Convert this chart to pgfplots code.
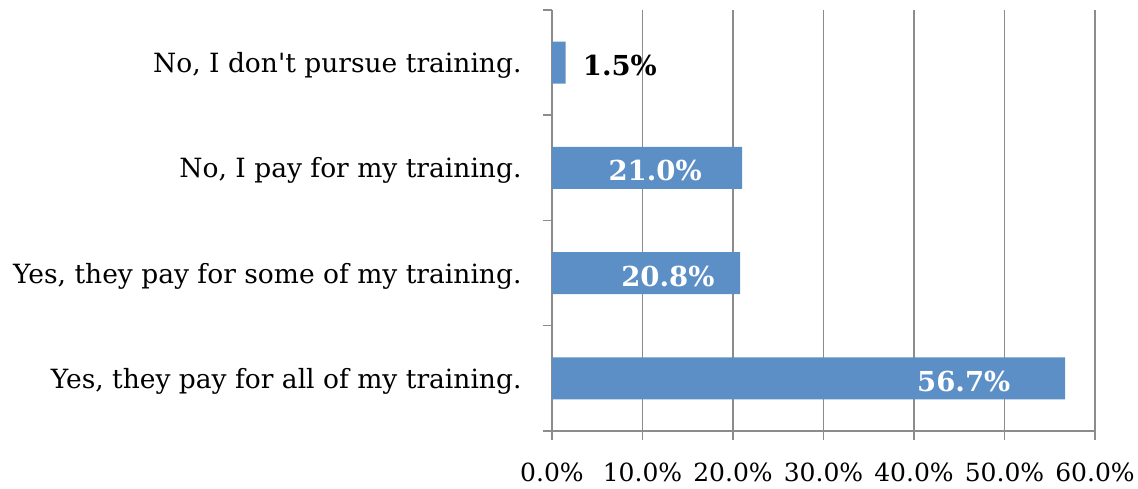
\documentclass[border=0pt]{standalone}
\usepackage{pgfplots}
\pgfplotsset{compat=1.18}
\usepackage{fontspec}
\setmainfont{DejaVu Serif}[Ligatures=TeXOff]
\definecolor{barblue}{RGB}{91,143,198}
\definecolor{gridgray}{RGB}{140,140,140}
\begin{document}
\begin{tikzpicture}
\useasboundingbox (-552pt,-58pt) rectangle (586pt,431pt);
\begin{axis}[
  at={(0pt,0pt)}, anchor=south west,
  scale only axis, width=543pt, height=421pt,
  xbar, bar width=42pt,
  xmin=0, xmax=60, ymin=-0.5, ymax=3.5,
  axis x line=bottom, axis y line=left,
  axis line style={-, draw=gridgray, line width=1.5pt},
  xtick={0,10,20,30,40,50,60},
  xticklabel={\pgfmathprintnumber[fixed,fixed zerofill,precision=1]{\tick}\%},
  /pgf/number format/assume math mode=true,
  xmajorgrids, grid style={draw=gridgray, line width=1.5pt},
  tick align=outside, major tick length=9pt,
  tick style={draw=gridgray, line width=1.5pt},
  ytick={-0.5,0.5,1.5,2.5,3.5}, yticklabels={},
  extra y ticks={0,1,2,3},
  extra y tick labels={{Yes, they pay for all of my training.},{Yes, they pay for some of my training.},{No, I pay for my training.},{No, I don't pursue training.}},
  extra y tick style={tick style={draw=none}},
  tick label style={text=black},
  xticklabel style={font=\fontsize{25}{28}\selectfont, yshift=-19pt},
  yticklabel style={font=\fontsize{26.5}{30}\selectfont, xshift=-18pt, yshift=-3pt},
  clip=false,
]
\addplot[fill=barblue, draw=none] coordinates {(56.7,0) (20.8,1) (21.0,2) (1.5,3)};
\node[font=\bfseries\fontsize{27.5}{30}\selectfont, text=white, yshift=-3pt] at (axis cs:45.5,0) {56.7\%};
\node[font=\bfseries\fontsize{27.5}{30}\selectfont, text=white, yshift=-3pt] at (axis cs:12.8,1) {20.8\%};
\node[font=\bfseries\fontsize{27.5}{30}\selectfont, text=white, yshift=-3pt] at (axis cs:11.4,2) {21.0\%};
\node[font=\bfseries\fontsize{27.5}{30}\selectfont, text=black, yshift=-3pt] at (axis cs:7.5,3) {1.5\%};
\end{axis}
\end{tikzpicture}
\end{document}
